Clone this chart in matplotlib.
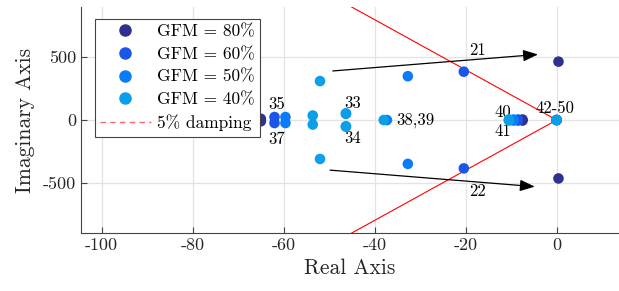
import numpy as np
import matplotlib
matplotlib.use('Agg')
import matplotlib.pyplot as plt
from matplotlib.lines import Line2D

plt.rcParams['font.family'] = 'serif'
plt.rcParams['font.serif'] = ['cmr10']
plt.rcParams['mathtext.fontset'] = 'cm'
plt.rcParams['axes.unicode_minus'] = False
plt.rcParams['axes.formatter.use_mathtext'] = False

# eigenvalues (real, imag) per GFM share
re_80 = [0.4, 0.4, -65.0, -65.0, -7.5, -7.5, 0.0]
im_80 = [465, -465, 10, -10, 4, -4, 0]
re_60 = [-20.4, -20.4, -62.0, -62.0, -8.5, -8.5, 0.0]
im_60 = [385, -385, 24, -24, 4, -4, 0]
re_50 = [-32.7, -32.7, -59.6, -59.6, -37.3, -46.3, -46.3, -9.5, -9.5, 0.0]
im_50 = [349, -349, 24, -24, 0, 50, -50, 4, -4, 0]
re_40 = [-52.0, -52.0, -53.6, -53.6, -46.3, -46.3, -38.0, -10.5, -10.5, 0.0]
im_40 = [310, -310, 36, -36, 53, -53, 0, 4, -4, 0]

series = [
    ('GFM = 80%', re_80, im_80, '#2e3192'),
    ('GFM = 60%', re_60, im_60, '#1b56e8'),
    ('GFM = 50%', re_50, im_50, '#0a7cfa'),
    ('GFM = 40%', re_40, im_40, '#0a9fe8'),
]

zeta = 0.05
ymax = 900

fig = plt.figure(figsize=(6.19, 2.91), dpi=100)
ax = fig.add_axes([0.131, 0.199, 0.869, 0.777])

# damping lines
slope = np.sqrt(1 - zeta**2) / zeta
xs = np.array([-ymax / slope, 0.7])
ax.plot(xs, -slope * xs, color='red', lw=0.8, zorder=3)
ax.plot(xs, slope * xs, color='red', lw=0.8, zorder=3)

handles = []
for name, re, im, c in series:
    ax.scatter(re, im, s=58, color=c, edgecolors='none', zorder=4)
    handles.append(Line2D([], [], ls='none', marker='o', ms=8, color=c, label=name))
handles.append(Line2D([], [], ls='--', dashes=(4, 3), color='red', alpha=0.6, lw=1, label='5% damping'))

# arrows
ax.annotate('', xy=(-3.5, 524), xytext=(-49.8, 389),
            arrowprops=dict(arrowstyle='-|>,head_length=0.9,head_width=0.35', color='black', lw=0.9), zorder=5)
ax.annotate('', xy=(-4.2, -532), xytext=(-50.4, -397),
            arrowprops=dict(arrowstyle='-|>,head_length=0.9,head_width=0.35', color='black', lw=0.9), zorder=5)

fs = 12
ax.text(-17.5, 556, '21', fontsize=fs, ha='center', va='center')
ax.text(-17.5, -571, '22', fontsize=fs, ha='center', va='center')
ax.text(-44.8, 135, '33', fontsize=fs, ha='center', va='center')
ax.text(-44.8, -143, '34', fontsize=fs, ha='center', va='center')
ax.text(-61.5, 127, '35', fontsize=fs, ha='center', va='center')
ax.text(-61.5, -151, '37', fontsize=fs, ha='center', va='center')
ax.text(-35.3, 0, '38,39', fontsize=fs, ha='left', va='center')
ax.text(-10.0, 63, '40', fontsize=fs, ha='right', va='center')
ax.text(-10.0, -90, '41', fontsize=fs, ha='right', va='center')
ax.text(-0.3, 95, '42-50', fontsize=fs, ha='center', va='center')

ax.set_xlim(-104.5, 13.7)
ax.set_ylim(-ymax, ymax)
ax.set_xticks([-100, -80, -60, -40, -20, 0])
ax.set_yticks([-500, 0, 500])
ax.grid(True, color='#e3e3e3', lw=0.9, zorder=0)
ax.set_axisbelow(True)
for s in ['top', 'right']:
    ax.spines[s].set_visible(False)
for s in ['left', 'bottom']:
    ax.spines[s].set_color('#444444')
ax.tick_params(direction='in', length=4, colors='#444444', labelcolor='#262626', labelsize=13)
ax.set_xlabel('Real Axis', fontsize=15.5, color='#262626', labelpad=4)
ax.set_ylabel('Imaginary Axis', fontsize=15.5, color='#262626', labelpad=6)

leg = ax.legend(handles=handles, loc='upper left', bbox_to_anchor=(0.026, 0.947), fontsize=12.5,
                frameon=True, fancybox=False, edgecolor='#444444', framealpha=1,
                borderaxespad=0, handlelength=2.9, labelspacing=0.42, borderpad=0.3,
                handletextpad=0.35)
leg.get_frame().set_linewidth(0.8)
leg.set_zorder(6)

fig.savefig('out.png', dpi=100)
